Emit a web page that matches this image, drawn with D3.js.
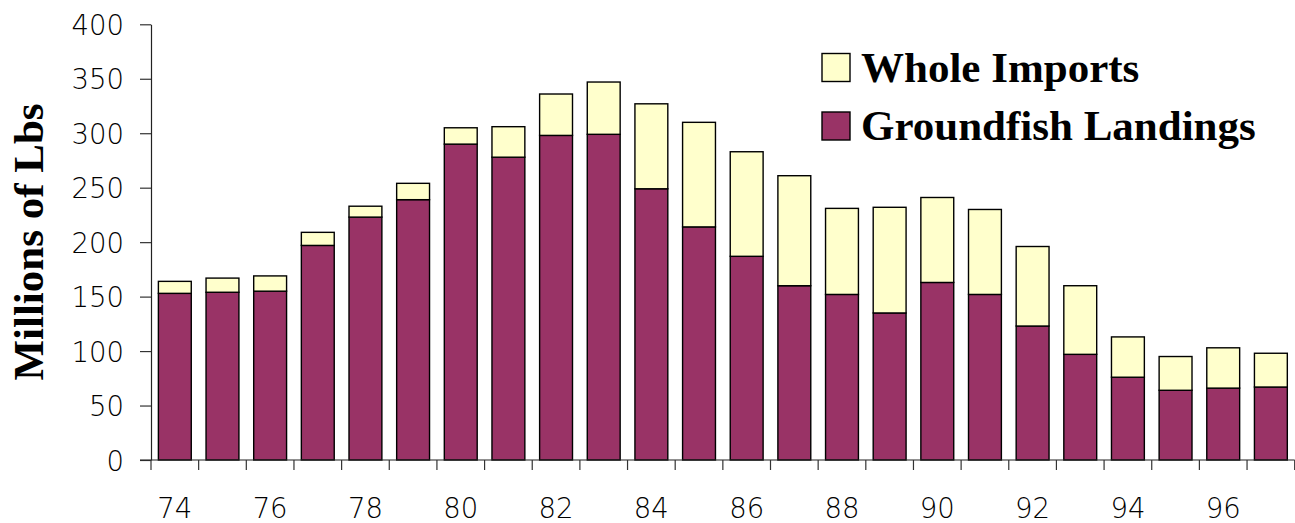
<!DOCTYPE html>
<html>
<head>
<meta charset="utf-8">
<script src="https://cdn.jsdelivr.net/npm/d3@7"></script>
<style>
  html, body { margin: 0; padding: 0; background: #fff; }
  svg { display: block; }
  .tick-label { font-family: "DejaVu Sans", sans-serif; font-weight: 200; font-size: 27.5px; fill: #000; }
  .serif-bold { font-family: "Liberation Serif", "Times New Roman", serif; font-weight: bold; fill: #000; }
</style>
</head>
<body>
<svg id="chart" width="1295" height="523"></svg>
<script>
// Years (19xx)
const years = [74, 75, 76, 77, 78, 79, 80, 81, 82, 83, 84, 85, 86, 87, 88, 89, 90, 91, 92, 93, 94, 95, 96, 97];
// Groundfish landings, millions of lbs
const landings = [153, 154, 155, 197, 223, 239, 290, 278, 298, 299, 249, 214, 187, 160, 152, 135, 163, 152, 123, 97, 76, 64, 66, 67];
// Whole imports, millions of lbs (stacked on top of landings)
const imports = [11, 13, 14, 12, 10, 15, 15, 28, 38, 48, 78, 96, 96, 101, 79, 97, 78, 78, 73, 63, 37, 31, 37, 31];
const yTicks = [0, 50, 100, 150, 200, 250, 300, 350, 400];
const xLabelYears = [74, 76, 78, 80, 82, 84, 86, 88, 90, 92, 94, 96];

const seriesNames = ["Groundfish Landings", "Whole Imports"];
const colors = { "Groundfish Landings": "#993366", "Whole Imports": "#FFFFCC" };

const svg = d3.select("#chart");
const plotLeft = 151, plotRight = 1294.7, plotTop = 24.3, plotBottom = 460;

const x = d3.scaleBand().domain(years).range([plotLeft, plotRight]).paddingInner(0.31).paddingOuter(0.155);
const y = d3.scaleLinear().domain([0, 400]).range([plotBottom, plotTop]);

const rows = years.map((yr, i) => ({ year: yr, "Groundfish Landings": landings[i], "Whole Imports": imports[i] }));
const stacked = d3.stack().keys(seriesNames)(rows);

// Bars
svg.append("g").selectAll("g")
  .data(stacked)
  .join("g")
  .attr("fill", d => colors[d.key])
  .selectAll("rect")
  .data(d => d)
  .join("rect")
  .attr("x", d => x(d.data.year))
  .attr("width", x.bandwidth())
  .attr("y", d => y(d[1]))
  .attr("height", d => y(d[0]) - y(d[1]))
  .attr("stroke", "#000")
  .attr("stroke-width", 1.4);

// Y axis
const yAxis = svg.append("g")
  .attr("transform", `translate(${plotLeft},0)`)
  .call(d3.axisLeft(y).tickValues(yTicks).tickSize(11).tickSizeOuter(0).tickPadding(16));
yAxis.select(".domain").attr("stroke", "#222").attr("stroke-width", 1.2);
yAxis.selectAll(".tick line").attr("stroke", "#333").attr("stroke-width", 1.2);
yAxis.selectAll(".tick text").attr("class", "tick-label").attr("dy", "0.37em");

// X axis line
svg.append("line")
  .attr("x1", plotLeft - 11).attr("x2", plotRight)
  .attr("y1", y(0)).attr("y2", y(0))
  .attr("stroke", "#222").attr("stroke-width", 1.2);

// X ticks at category boundaries
const step = x.step();
const boundaries = d3.range(years.length + 1).map(i => x.range()[0] + i * step);
svg.append("g").selectAll("line")
  .data(boundaries)
  .join("line")
  .attr("x1", d => d).attr("x2", d => d)
  .attr("y1", y(0)).attr("y2", y(0) + 10)
  .attr("stroke", "#333").attr("stroke-width", 1.2);

// X labels (every other year)
svg.append("g").selectAll("text")
  .data(xLabelYears)
  .join("text")
  .attr("class", "tick-label")
  .attr("x", d => x(d) + x.bandwidth() / 2)
  .attr("y", 518)
  .attr("text-anchor", "middle")
  .text(d => d);

// Y axis title
svg.append("text")
  .attr("class", "serif-bold")
  .attr("transform", `translate(43,242) rotate(-90)`)
  .attr("text-anchor", "middle")
  .style("font-size", "43px")
  .text("Millions of Lbs");

// Legend
const legendItems = [
  { name: "Whole Imports", y: 53.5 },
  { name: "Groundfish Landings", y: 112 }
];
const lg = svg.append("g");
lg.selectAll("rect")
  .data(legendItems)
  .join("rect")
  .attr("x", 822).attr("y", d => d.y)
  .attr("width", 28).attr("height", 28)
  .attr("fill", d => colors[d.name])
  .attr("stroke", "#000").attr("stroke-width", 1.4);
lg.selectAll("text")
  .data(legendItems)
  .join("text")
  .attr("class", "serif-bold")
  .attr("x", 861).attr("y", d => d.y + 28)
  .style("font-size", "43px")
  .text(d => d.name);
</script>
</body>
</html>
